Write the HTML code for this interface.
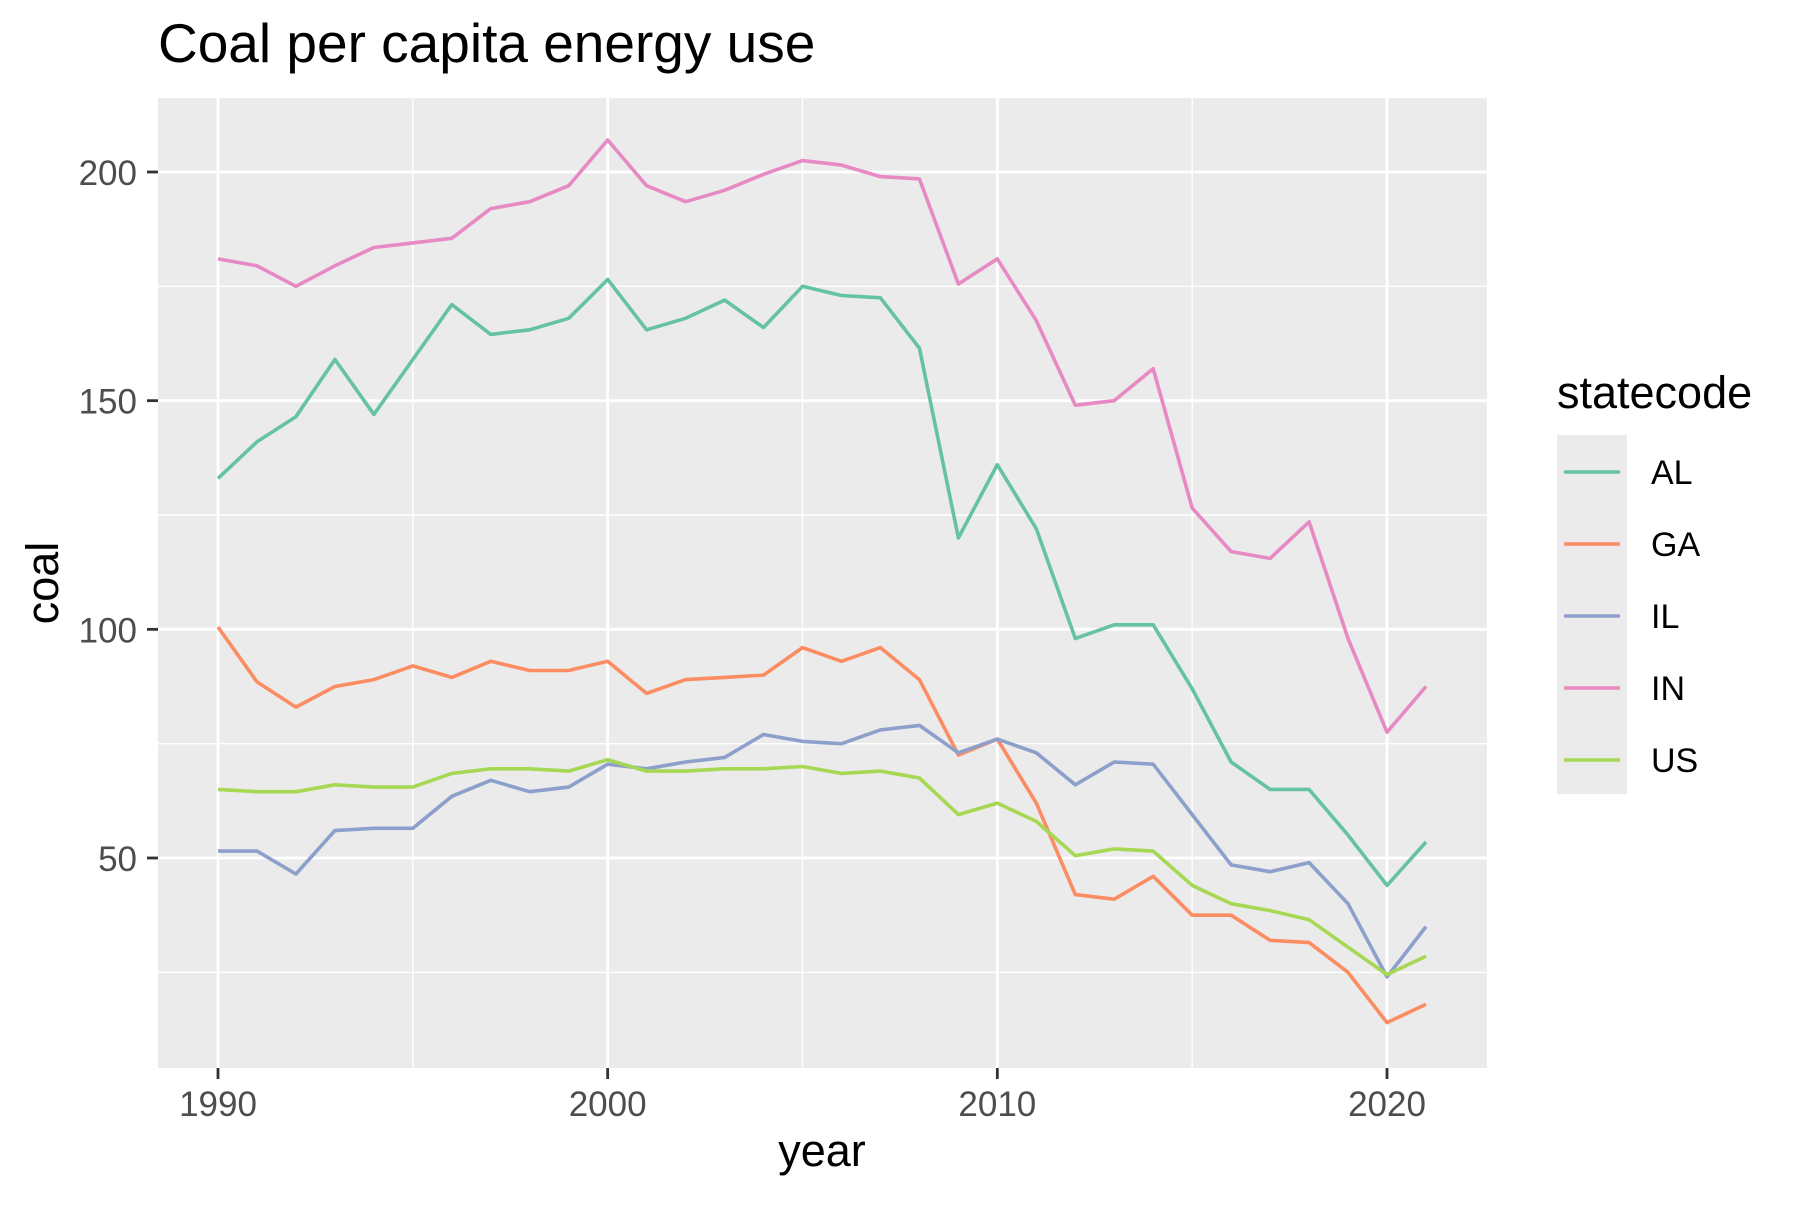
<!DOCTYPE html>
<html><head><meta charset="utf-8"><style>
body{margin:0;background:#fff;}
svg text{font-family:"Liberation Sans",sans-serif;}
</style></head><body>
<svg id="chart" width="1800" height="1200" xmlns="http://www.w3.org/2000/svg">
<rect width="1800" height="1200" fill="#fff"/>
<text x="158" y="62" font-size="55" fill="#000">Coal per capita energy use</text>
<rect x="158" y="98" width="1329" height="970" fill="#EBEBEB"/>
<g id="grid"></g>
<g id="series"></g>
<g id="axes"></g>
<text x="822" y="1166" font-size="45" text-anchor="middle" fill="#000">year</text>
<text transform="translate(58,583) rotate(-90)" font-size="45" text-anchor="middle" fill="#000">coal</text>
<text x="1557" y="408" font-size="45" fill="#000">statecode</text>
<rect x="1557" y="435" width="70" height="359" fill="#EBEBEB"/>
<g id="legend"></g>
</svg>
<script>
const years = [];
for (let y = 1990; y <= 2021; y++) years.push(y);
const seriesNames = ["AL","GA","IL","IN","US"];
const colors = ["#66C2A5","#FC8D62","#8DA0CB","#E78AC3","#A6D854"];
const alValues = [133,141,146.5,159,147,159,171,164.5,165.5,168,176.5,165.5,168,172,166,175,173,172.5,161.5,120,136,122,98,101,101,87,71,65,65,55,44,53.5];
const gaValues = [100.5,88.5,83,87.5,89,92,89.5,93,91,91,93,86,89,89.5,90,96,93,96,89,72.5,76,62,42,41,46,37.5,37.5,32,31.5,25,14,18];
const ilValues = [51.5,51.5,46.5,56,56.5,56.5,63.5,67,64.5,65.5,70.5,69.5,71,72,77,75.5,75,78,79,73,76,73,66,71,70.5,59.5,48.5,47,49,40,24,35];
const inValues = [181,179.5,175,179.5,183.5,184.5,185.5,192,193.5,197,207,197,193.5,196,199.5,202.5,201.5,199,198.5,175.5,181,167.5,149,150,157,126.5,117,115.5,123.5,98,77.5,87.5];
const usValues = [65,64.5,64.5,66,65.5,65.5,68.5,69.5,69.5,69,71.5,69,69,69.5,69.5,70,68.5,69,67.5,59.5,62,58,50.5,52,51.5,44,40,38.5,36.5,30.5,24.5,28.5];
const xTicks = [1990,2000,2010,2020];
const xMinor = [1995,2005,2015];
const yTicks = [50,100,150,200];
const yMinor = [25,75,125,175];

const NS = "http://www.w3.org/2000/svg";
const X0 = 158, X1 = 1487, Y0 = 98, Y1 = 1068;
function xs(v){ return 218 + (v - 1990) * (1387 - 218) / 30; }
function ys(v){ return 858 - (v - 50) * (858 - 172) / 150; }
function mk(tag, attrs, parent){ const e = document.createElementNS(NS, tag); for (const k in attrs) e.setAttribute(k, attrs[k]); parent.appendChild(e); return e; }

const grid = document.getElementById('grid');
yMinor.forEach(v => {
  const l = mk('line', {x1:X0, x2:X1, y1:ys(v), y2:ys(v), stroke:'#fff', 'stroke-width':1.4}, grid);
  
  
});
xMinor.forEach(v => {
  const l = mk('line', {x1:xs(v), x2:xs(v), y1:Y0, y2:Y1, stroke:'#fff', 'stroke-width':1.4}, grid);
  
  
});
yTicks.forEach(v => {
  const l = mk('line', {x1:X0, x2:X1, y1:ys(v), y2:ys(v), stroke:'#fff', 'stroke-width':2.8}, grid);
  
  
});
xTicks.forEach(v => {
  const l = mk('line', {x1:xs(v), x2:xs(v), y1:Y0, y2:Y1, stroke:'#fff', 'stroke-width':2.8}, grid);
  
  
});

const axes = document.getElementById('axes');
yTicks.forEach(v => {
  const t = mk('line', {x1:X0-11, x2:X0, y1:ys(v), y2:ys(v), stroke:'#333', 'stroke-width':2.8}, axes);
  
  
  const lb = mk('text', {x:X0-21, y:ys(v)+13, 'font-size':35, 'text-anchor':'end', fill:'#4D4D4D'}, axes);
  lb.textContent = v;
  
  
});
xTicks.forEach(v => {
  const t = mk('line', {x1:xs(v), x2:xs(v), y1:Y1, y2:Y1+11, stroke:'#333', 'stroke-width':2.8}, axes);
  
  
  const lb = mk('text', {x:xs(v), y:1116, 'font-size':35, 'text-anchor':'middle', fill:'#4D4D4D'}, axes);
  lb.textContent = v;
  
  
});

const allValues = [alValues, gaValues, ilValues, inValues, usValues];
const sg = document.getElementById('series');
allValues.forEach((vals, i) => {
  const pts = vals.map((v, j) => xs(years[j]).toFixed(1) + ',' + ys(v).toFixed(1)).join(' ');
  const p = mk('polyline', {points:pts, fill:'none', stroke:colors[i], 'stroke-width':3.6, 'stroke-linejoin':'round'}, sg);
  
  
});

const lg = document.getElementById('legend');
seriesNames.forEach((n, i) => {
  const cy = 472 + i * 72;
  const l = mk('line', {x1:1564, x2:1620, y1:cy, y2:cy, stroke:colors[i], 'stroke-width':3.6}, lg);
  
  
  const t = mk('text', {x:1651, y:cy+12, 'font-size':34, fill:'#000'}, lg);
  t.textContent = n;
  
  
});
</script>
</body></html>
